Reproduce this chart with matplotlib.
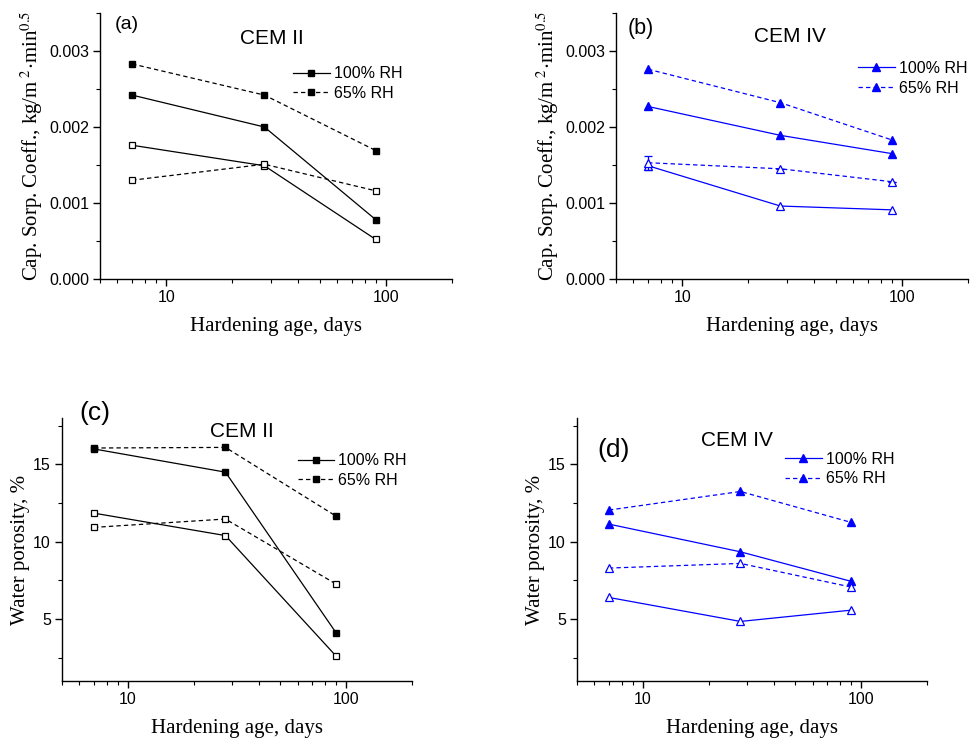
import matplotlib
matplotlib.use("Agg")
import matplotlib.pyplot as plt
from matplotlib.ticker import AutoMinorLocator, NullFormatter, FixedLocator, LogLocator

plt.rcParams["mathtext.fontset"] = "stix"

# hardening age, days
days = [7, 28, 90]

# (a) CEM II, capillary sorption coefficient
a_100_filled = [0.00242, 0.00200, 0.00078]
a_65_filled = [0.00283, 0.00242, 0.00169]
a_100_open = [0.00176, 0.00149, 0.00052]
a_65_open = [0.00130, 0.00151, 0.00116]

# (b) CEM IV, capillary sorption coefficient
b_100_filled = [0.00227, 0.00189, 0.00165]
b_65_filled = [0.00276, 0.00232, 0.00183]
b_100_open = [0.00149, 0.00096, 0.00091]
b_65_open = [0.00153, 0.00145, 0.00128]
b_65_open_err = [0.00009, 0.0, 0.0]

# (c) CEM II, water porosity
c_100_filled = [16.0, 14.5, 4.1]
c_65_filled = [16.06, 16.1, 11.65]
c_100_open = [11.85, 10.4, 2.6]
c_65_open = [10.93, 11.47, 7.26]

# (d) CEM IV, water porosity
d_100_filled = [11.14, 9.35, 7.44]
d_65_filled = [12.05, 13.25, 11.25]
d_100_open = [6.40, 4.85, 5.58]
d_65_open = [8.30, 8.60, 7.07]

SANS = "Liberation Sans"
SERIF = "Liberation Serif"
DASH = (0, (3.5, 2.5))

fig = plt.figure(figsize=(9.72, 7.38), dpi=100)

W, H = 972, 738


def make_ax(left, right, top, bottom):
    return fig.add_axes([left / W, 1 - bottom / H, (right - left) / W, (bottom - top) / H])


def style_ax(ax, ylim, yticks, yfmt, ylabel, ylabelpad):
    ax.set_xscale("log")
    ax.set_xlim(5, 200)
    ax.set_ylim(*ylim)
    ax.xaxis.set_major_locator(FixedLocator([10, 100]))
    ax.xaxis.set_minor_locator(LogLocator(base=10, subs=range(2, 10)))
    ax.xaxis.set_minor_formatter(NullFormatter())
    ax.set_xticklabels(["10", "100"])
    ax.set_yticks(yticks)
    ax.set_yticklabels([yfmt.format(v) for v in yticks])
    ax.yaxis.set_minor_locator(AutoMinorLocator(2))
    for s in ("top", "right"):
        ax.spines[s].set_visible(False)
    for s in ("left", "bottom"):
        ax.spines[s].set_linewidth(1.0)
    ax.tick_params(which="major", direction="out", length=5, width=1.0,
                   labelsize=11.5, pad=3)
    ax.tick_params(which="minor", direction="out", length=3, width=0.8)
    for lab in ax.get_xticklabels() + ax.get_yticklabels():
        lab.set_fontfamily(SANS)
    ax.set_xlabel("Hardening age, days", fontfamily=SERIF, fontsize=15, labelpad=8.5)
    ax.set_ylabel(ylabel, fontfamily=SERIF, fontsize=15, labelpad=ylabelpad)


def draw(ax, color, marker, ms, f100, f65, o100, o65, o65_err=None):
    ax.plot(days, f100, color=color, lw=0.9, marker=marker, ms=ms,
            mfc=color, mec=color, label="100% RH")
    ax.plot(days, f65, color=color, lw=0.9, ls=DASH, marker=marker, ms=ms,
            mfc=color, mec=color, label="65% RH")
    ax.plot(days, o100, color=color, lw=0.9, marker=marker, ms=ms,
            mfc="white", mec=color, mew=0.9)
    if o65_err is not None:
        ax.errorbar(days, o65, yerr=o65_err, color=color, lw=0.9, ls=DASH,
                    marker=marker, ms=ms, mfc="white", mec=color, mew=0.9,
                    capsize=3, elinewidth=0.9)
    else:
        ax.plot(days, o65, color=color, lw=0.9, ls=DASH, marker=marker, ms=ms,
                mfc="white", mec=color, mew=0.9)


def legend(ax, x, y):
    ax.legend(loc="upper left", bbox_to_anchor=(x, y), frameon=False,
              prop={"family": SANS, "size": 11.5}, handlelength=2.3,
              handletextpad=0.25, labelspacing=0.3, borderpad=0,
              borderaxespad=0)


sorp_label = "Cap. Sorp. Coeff., kg/m$^{\\ 2}$$\\cdot$min$^{0.5}$"
sorp_ticks = [0.0, 0.001, 0.002, 0.003]
por_ticks = [5, 10, 15]

ax_a = make_ax(100, 452, 13, 279)
draw(ax_a, "black", "s", 4.4, a_100_filled, a_65_filled, a_100_open, a_65_open)
style_ax(ax_a, (0, 0.0035), sorp_ticks, "{:.3f}", sorp_label, 3)
ax_a.text(0.043, 0.955, "(a)", transform=ax_a.transAxes, fontfamily=SANS,
          fontsize=14, va="center", ha="left")
ax_a.text(0.489, 0.906, "CEM II", transform=ax_a.transAxes, fontfamily=SANS,
          fontsize=15, va="center", ha="center")
legend(ax_a, 0.548, 0.80)

ax_b = make_ax(616, 968, 13, 279)
draw(ax_b, "#0000ff", "^", 6, b_100_filled, b_65_filled, b_100_open, b_65_open,
     b_65_open_err)
style_ax(ax_b, (0, 0.0035), sorp_ticks, "{:.3f}", sorp_label, 3)
ax_b.text(0.034, 0.94, "(b)", transform=ax_b.transAxes, fontfamily=SANS,
          fontsize=15.5, va="center", ha="left")
ax_b.text(0.494, 0.91, "CEM IV", transform=ax_b.transAxes, fontfamily=SANS,
          fontsize=15, va="center", ha="center")
legend(ax_b, 0.687, 0.82)

ax_c = make_ax(62, 412, 418, 681)
draw(ax_c, "black", "s", 4.4, c_100_filled, c_65_filled, c_100_open, c_65_open)
style_ax(ax_c, (1, 18), por_ticks, "{:d}", "Water porosity, %", 2)
ax_c.text(0.05, 1.02, "(c)", transform=ax_c.transAxes, fontfamily=SANS,
          fontsize=19, va="center", ha="left")
ax_c.text(0.514, 0.947, "CEM II", transform=ax_c.transAxes, fontfamily=SANS,
          fontsize=15, va="center", ha="center")
legend(ax_c, 0.673, 0.866)

ax_d = make_ax(577, 927, 418, 681)
draw(ax_d, "#0000ff", "^", 6, d_100_filled, d_65_filled, d_100_open, d_65_open)
style_ax(ax_d, (1, 18), por_ticks, "{:d}", "Water porosity, %", 2)
ax_d.text(0.057, 0.878, "(d)", transform=ax_d.transAxes, fontfamily=SANS,
          fontsize=19, va="center", ha="left")
ax_d.text(0.456, 0.916, "CEM IV", transform=ax_d.transAxes, fontfamily=SANS,
          fontsize=15, va="center", ha="center")
legend(ax_d, 0.594, 0.872)

fig.savefig("out.png", dpi=100)
